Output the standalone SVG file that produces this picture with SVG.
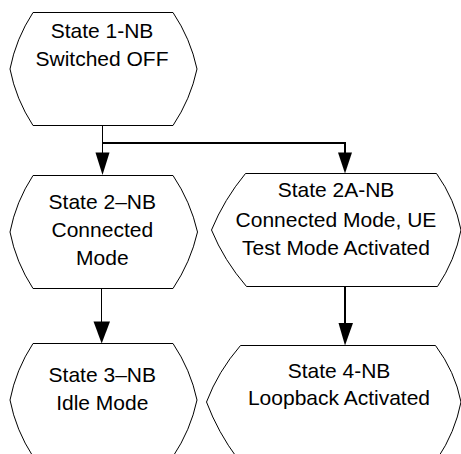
<svg xmlns="http://www.w3.org/2000/svg" width="461" height="454" viewBox="0 0 461 454">
<style>
.node{fill:#fff;stroke:#000;stroke-width:1}
.t{font-family:"Liberation Sans",Arial,sans-serif;font-size:21px;fill:#000;text-anchor:middle}
.thin{stroke:#000;stroke-width:1;fill:none}
.thick{stroke:#000;stroke-width:2;fill:none}
.ah{fill:#000;stroke:none}
</style>
<rect width="461" height="454" fill="#fff"/>
<g id="node1">
<path class="node" d="M33,12.5 L173,12.5 Q190.6,38.8 197,69 Q190.6,99.2 173,125.5 L33,125.5 Q15.9,99.2 10,69 Q15.9,38.8 33,12.5 Z"/>
<text class="t" x="102" y="37.5">State 1-NB</text>
<text class="t" x="102" y="66">Switched OFF</text>
</g>
<g id="node2">
<path class="node" d="M33,175.5 L173,175.5 Q190.6,201.8 197.5,232 Q190.6,262.2 173,288.5 L33,288.5 Q15.9,262.2 10,232 Q15.9,201.8 33,175.5 Z"/>
<text class="t" x="102.3" y="209">State 2–NB</text>
<text class="t" x="102.3" y="237">Connected</text>
<text class="t" x="102.3" y="265">Mode</text>
</g>
<g id="node2A">
<path class="node" d="M245.5,173.5 L436.5,173.5 Q455,199.5 461,230 Q455,260.5 437.5,286.5 L246.5,286.5 Q224,260.5 211.5,230 Q224,199.5 245.5,173.5 Z"/>
<text class="t" x="336" y="197">State 2A-NB</text>
<text class="t" x="336" y="227">Connected Mode, UE</text>
<text class="t" x="336" y="254.5">Test Mode Activated</text>
</g>
<g id="node3">
<path class="node" d="M33,343.5 L173,343.5 Q190.6,369.8 197,400 Q190.6,430.2 173,456.5 L33,456.5 Q15.9,430.2 10,400 Q15.9,369.8 33,343.5 Z"/>
<text class="t" x="102.3" y="381.5">State 3–NB</text>
<text class="t" x="102.3" y="409.5">Idle Mode</text>
</g>
<g id="node4">
<path class="node" d="M240.5,345.5 L435.5,345.5 Q455,371.5 461,402 Q455,432.5 437.5,458.5 L237.5,458.5 Q218,432.5 206.5,402 Q218,371.5 240.5,345.5 Z"/>
<text class="t" x="339" y="377.5">State 4-NB</text>
<text class="t" x="339" y="405">Loopback Activated</text>
</g>
<g id="connectors">
<path class="thin" d="M102.5,125.5 V154"/>
<path class="thick" d="M102,143 H345 V154"/>
<polygon class="ah" points="95.5,152.5 109.5,152.5 102.5,175"/>
<polygon class="ah" points="338,152.5 352,152.5 345,173.5"/>
<path class="thin" d="M101.5,288.5 V323"/>
<polygon class="ah" points="93.5,321.5 110,321.5 101.7,343.5"/>
<path class="thick" d="M345,286.5 V324"/>
<polygon class="ah" points="338.5,323 353,323 345,345.5"/>
</g>
</svg>
